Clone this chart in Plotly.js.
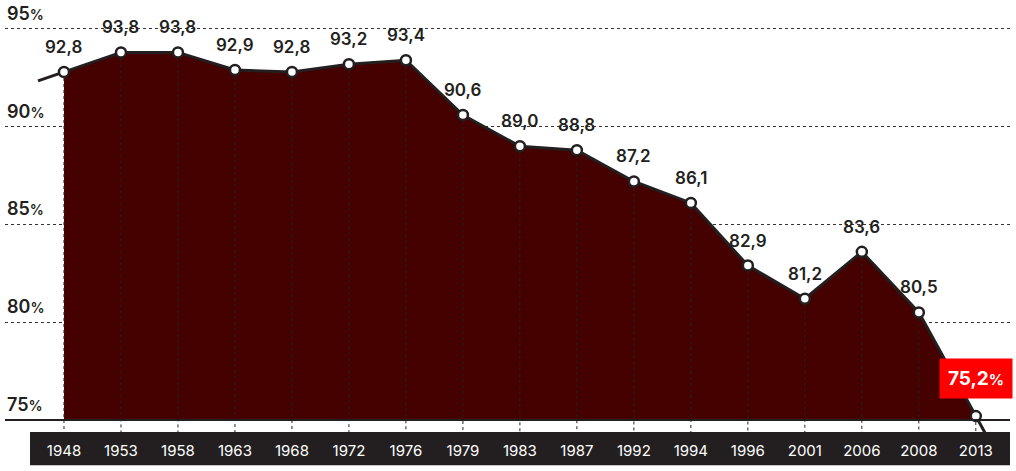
<!DOCTYPE html>
<html>
<head>
<meta charset="utf-8">
<script src="https://cdn.plot.ly/plotly-3.0.1.min.js"></script>
<style>html,body{margin:0;padding:0;background:#fff;}#chart{width:1016px;height:471px;}</style>
</head>
<body>
<div id="chart"></div>
<script>
const years = ["1948","1953","1958","1963","1968","1972","1976","1979","1983","1987","1992","1994","1996","2001","2006","2008","2013"];
const values = [92.8,93.8,93.8,92.9,92.8,93.2,93.4,90.6,89.0,88.8,87.2,86.1,82.9,81.2,83.6,80.5,75.2];
const labels = ["92,8","93,8","93,8","92,9","92,8","93,2","93,4","90,6","89,0","88,8","87,2","86,1","82,9","81,2","83,6","80,5","75,2%"];
const yTicks = [75,80,85,90,95];
const yTickText = ["75%","80%","85%","90%","95%"];

const idx = years.map((_, i) => i);
const n = values.length;
const yMin = 74.386, yMax = 95.97;
const base = yTicks[0];

// line extensions (extrapolated from first/last segments)
const leftX = -0.456;
const leftY = values[0] + leftX * (values[1] - values[0]);
const rightX = n - 1 + 0.35;
const rightY = values[n-1] + 0.35 * (values[n-1] - values[n-2]);

const vx = [], vy = [];
idx.forEach((i) => { vx.push(i, i, null); vy.push(values[i], yMin, null); });

const traces = [
  {x: idx, y: idx.map(() => base), mode: 'lines', line: {width: 0}, hoverinfo: 'skip', showlegend: false},
  {x: idx, y: values, mode: 'lines', fill: 'tonexty', fillcolor: '#450000', line: {width: 0}, hoverinfo: 'skip', showlegend: false},
  {x: vx, y: vy, mode: 'lines', line: {color: '#222', width: 1, dash: 'dot'}, hoverinfo: 'skip', showlegend: false},
  {x: [leftX].concat(idx, [rightX]), y: [leftY].concat(values, [rightY]), mode: 'lines', line: {color: '#231f20', width: 3}, hoverinfo: 'skip', showlegend: false},
  {x: idx, y: values, mode: 'markers', marker: {size: 10, color: '#fff', line: {color: '#231f20', width: 2.5}}, cliponaxis: false, hoverinfo: 'skip', showlegend: false}
];

const pct = (s, sz) => s.replace('%', "<span style='font-size:" + sz + "px'>%</span>");
const FONT = 'Inter';
const labelFont = {family: FONT, size: 17, color: '#231f20', weight: 600};

const annotations = idx.map((i) => {
  const last = i === n - 1;
  return {
    x: i, y: values[i], xref: 'x', yref: 'y', showarrow: false,
    text: last ? '<b>' + pct(labels[i], 15) + '</b>' : labels[i],
    yshift: last ? 38 : 25,
    font: last ? {family: FONT, size: 19, color: '#fff', weight: 700} : labelFont,
    bgcolor: last ? '#ff0000' : 'rgba(0,0,0,0)',
    borderpad: last ? 8 : 0,
    width: last ? 56 : undefined
  };
});

const yLabelAnn = yTicks.map((v, k) => ({
  xref: 'paper', yref: 'y', x: 0, y: v, xanchor: 'left', yanchor: 'bottom', yshift: 3, showarrow: false,
  text: pct(yTickText[k], 14), font: {family: FONT, size: 18, color: '#231f20', weight: 600}
}));

const layout = {
  width: 1016, height: 471,
  margin: {l: 5, r: 6, t: 10, b: 39},
  paper_bgcolor: '#fff', plot_bgcolor: '#fff',
  showlegend: false,
  xaxis: {
    range: [-1.035, 16.6], tickmode: 'array', tickvals: idx, ticktext: years,
    showgrid: false, zeroline: false, showline: false, ticks: '',
    tickfont: {family: FONT, size: 15, color: '#fff', weight: 400},
    ticklabelstandoff: 8
  },
  yaxis: {
    range: [yMin, yMax], tickmode: 'array', tickvals: yTicks.slice(1),
    showticklabels: false,
    showgrid: true, gridcolor: '#333', griddash: 'dot', gridwidth: 1,
    zeroline: false, showline: false, ticks: ''
  },
  shapes: [
    {type: 'rect', xref: 'paper', yref: 'paper', x0: 0.0249, x1: 1, y0: -0.0785, y1: 0, fillcolor: '#231f20', line: {width: 0}, layer: 'below'},
    {type: 'line', xref: 'paper', yref: 'y', x0: 0, x1: 1, y0: base, y1: base, line: {color: '#231f20', width: 2}, layer: 'above'}
  ],
  annotations: annotations.concat(yLabelAnn)
};

Plotly.newPlot('chart', traces, layout, {displayModeBar: false, staticPlot: true});
</script>
</body>
</html>
